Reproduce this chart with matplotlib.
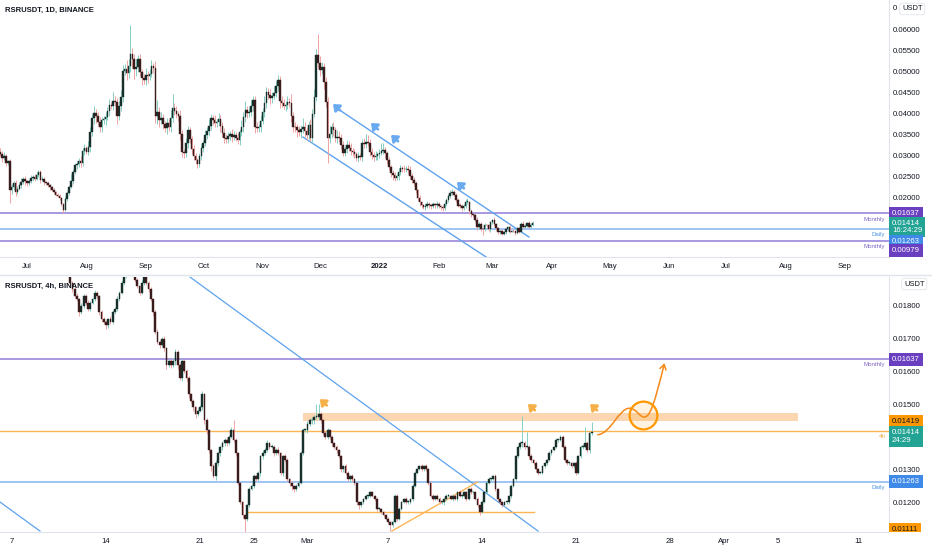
import numpy as np
import pandas as pd
import matplotlib
matplotlib.use("Agg")
import matplotlib.pyplot as plt
import matplotlib.dates as mdates
import matplotlib.transforms as mtransforms
from matplotlib.path import Path
from matplotlib.patches import FancyArrowPatch, Rectangle
from matplotlib.lines import Line2D

plt.rcParams['font.family'] = ['Liberation Sans', 'DejaVu Sans']

# ---------------- daily candles (top pane) ----------------
day_start = "2021-06-17"
day_open0 = 0.0310
day_close = [
    0.0305, 0.0296, 0.0300, 0.0284, 0.0287, 0.0218, 0.0226, 0.0236, 0.0215, 0.0222,
    0.0230, 0.0238, 0.0246, 0.0240, 0.0235, 0.0241, 0.0248, 0.0251, 0.0246, 0.0254,
    0.0261, 0.0244, 0.0246, 0.0238, 0.0236, 0.0230, 0.0226, 0.0220, 0.0214, 0.0208,
    0.0205, 0.0200, 0.0186, 0.0172, 0.0198, 0.0212, 0.0226, 0.0240, 0.0262, 0.0278,
    0.0280, 0.0288, 0.0284, 0.0312, 0.0318, 0.0310, 0.0322, 0.0358, 0.0390, 0.0402,
    0.0396, 0.0380, 0.0368, 0.0385, 0.0388, 0.0394, 0.0408, 0.0422, 0.0420, 0.0432,
    0.0428, 0.0395, 0.0420, 0.0440, 0.0502, 0.0506, 0.0498, 0.0514, 0.0542, 0.0530,
    0.0506, 0.0512, 0.0530, 0.0500, 0.0486, 0.0480, 0.0494, 0.0490, 0.0496, 0.0514,
    0.0510, 0.0395, 0.0404, 0.0386, 0.0390, 0.0376, 0.0366, 0.0378, 0.0370, 0.0390,
    0.0415, 0.0408, 0.0400, 0.0396, 0.0352, 0.0310, 0.0306, 0.0330, 0.0362, 0.0340,
    0.0316, 0.0300, 0.0290, 0.0280, 0.0300, 0.0318, 0.0332, 0.0350, 0.0360, 0.0372,
    0.0390, 0.0385, 0.0378, 0.0380, 0.0388, 0.0372, 0.0355, 0.0344, 0.0340, 0.0348,
    0.0352, 0.0346, 0.0350, 0.0344, 0.0338, 0.0356, 0.0370, 0.0392, 0.0410, 0.0402,
    0.0405, 0.0420, 0.0434, 0.0368, 0.0366, 0.0368, 0.0384, 0.0404, 0.0426, 0.0452,
    0.0446, 0.0438, 0.0444, 0.0450, 0.0466, 0.0482, 0.0430, 0.0426, 0.0420, 0.0422,
    0.0428, 0.0426, 0.0395, 0.0370, 0.0368, 0.0362, 0.0356, 0.0364, 0.0368, 0.0360,
    0.0350, 0.0374, 0.0344, 0.0400, 0.0440, 0.0540, 0.0522, 0.0505, 0.0512, 0.0475,
    0.0428, 0.0344, 0.0352, 0.0368, 0.0362, 0.0344, 0.0346, 0.0342, 0.0326, 0.0308,
    0.0316, 0.0326, 0.0320, 0.0312, 0.0310, 0.0304, 0.0296, 0.0300, 0.0298, 0.0330,
    0.0328, 0.0334, 0.0332, 0.0310, 0.0302, 0.0298, 0.0300, 0.0304, 0.0308, 0.0312,
    0.0314, 0.0306, 0.0290, 0.0274, 0.0260, 0.0254, 0.0248, 0.0252, 0.0262, 0.0272,
    0.0270, 0.0268, 0.0270, 0.0266, 0.0252, 0.0244, 0.0236, 0.0218, 0.0200, 0.0190,
    0.0183, 0.0179, 0.0182, 0.0186, 0.0183, 0.0180, 0.0185, 0.0183, 0.0186, 0.0180,
    0.0178, 0.0176, 0.0186, 0.0196, 0.0204, 0.0212, 0.0214, 0.0208, 0.0196, 0.0182,
    0.0181, 0.0175, 0.0182, 0.0191, 0.0191, 0.0169, 0.0162, 0.0160, 0.0148, 0.0131,
    0.0139, 0.0126, 0.0125, 0.0136, 0.0135, 0.0125, 0.0142, 0.0147, 0.0138, 0.0129,
    0.0119, 0.0122, 0.0115, 0.0118, 0.0125, 0.0130, 0.0120, 0.0122, 0.0121, 0.0117,
    0.0128, 0.0120, 0.0138, 0.0132, 0.0133, 0.0140, 0.0132, 0.0136, 0.01414,
]
# wick lengths beyond the body, in units of 0.0001
day_upper = [
    8, 6, 10, 5, 4, 6, 8, 5, 7, 6,
    5, 9, 4, 6, 3, 5, 7, 4, 6, 8,
    6, 5, 7, 4, 3, 5, 4, 3, 4, 3,
    5, 4, 3, 2, 6, 4, 5, 18, 8, 6,
    9, 7, 12, 8, 10, 6, 14, 12, 9, 16,
    10, 8, 12, 9, 7, 10, 8, 14, 6, 20,
    12, 9, 10, 16, 14, 12, 22, 18, 70, 16,
    12, 20, 10, 14, 8, 10, 15, 9, 11, 14,
    8, 16, 30, 12, 14, 10, 8, 12, 9, 20,
    32, 10, 12, 8, 14, 9, 6, 12, 10, 8,
    7, 9, 6, 5, 8, 10, 7, 12, 9, 16,
    10, 8, 12, 9, 14, 10, 8, 12, 9, 10,
    8, 12, 9, 6, 10, 8, 16, 12, 20, 10,
    12, 14, 10, 8, 12, 9, 14, 10, 16, 12,
    10, 14, 8, 16, 12, 10, 9, 12, 10, 8,
    14, 10, 22, 9, 12, 8, 10, 9, 22, 12,
    8, 10, 14, 12, 20, 14, 50, 16, 12, 10,
    14, 12, 20, 10, 12, 8, 16, 14, 10, 9,
    8, 12, 9, 10, 8, 7, 6, 9, 8, 10,
    12, 18, 16, 9, 8, 7, 12, 6, 8, 20,
    16, 8, 6, 7, 5, 6, 8, 5, 10, 6,
    5, 8, 6, 9, 10, 8, 6, 5, 4, 6,
    4, 3, 5, 6, 4, 3, 5, 4, 6, 5,
    4, 5, 6, 4, 5, 6, 8, 5, 4, 5,
    6, 5, 4, 6, 8, 3, 4, 3, 5, 6,
    4, 3, 2, 4, 3, 2, 3, 4, 8, 3,
    3, 2, 4, 3, 4, 4, 5, 2, 3, 2,
    3, 4, 6, 8, 4, 3, 5, 4, 3,
]
day_lower = [
    6, 10, 5, 8, 6, 30, 9, 6, 10, 5,
    4, 6, 5, 8, 6, 4, 5, 7, 6, 4,
    5, 8, 4, 6, 5, 4, 6, 3, 5, 4,
    3, 4, 5, 8, 3, 4, 5, 3, 6, 5,
    8, 6, 10, 7, 9, 6, 8, 12, 10, 14,
    18, 9, 12, 10, 8, 14, 9, 12, 8, 10,
    9, 18, 10, 14, 12, 10, 16, 12, 14, 20,
    22, 16, 12, 10, 18, 9, 12, 16, 10, 8,
    12, 16, 20, 18, 10, 12, 9, 14, 10, 12,
    8, 10, 9, 12, 14, 12, 10, 8, 12, 10,
    12, 9, 10, 8, 6, 10, 8, 9, 10, 12,
    9, 12, 10, 8, 9, 14, 10, 12, 9, 8,
    10, 12, 8, 9, 10, 12, 9, 14, 10, 12,
    9, 10, 12, 14, 10, 8, 12, 9, 10, 12,
    10, 14, 12, 9, 10, 12, 16, 10, 9, 12,
    10, 9, 14, 12, 10, 16, 9, 12, 10, 14,
    12, 10, 9, 14, 8, 10, 12, 14, 10, 16,
    12, 60, 12, 10, 14, 10, 12, 9, 10, 8,
    9, 10, 8, 9, 10, 8, 9, 10, 8, 9,
    10, 8, 9, 10, 8, 9, 7, 10, 8, 6,
    8, 10, 9, 8, 9, 10, 8, 6, 9, 7,
    8, 6, 7, 9, 6, 8, 7, 6, 8, 9,
    8, 6, 7, 5, 6, 7, 5, 6, 8, 5,
    6, 7, 4, 5, 6, 5, 6, 4, 5, 4,
    6, 5, 4, 5, 6, 6, 8, 5, 4, 8,
    6, 5, 14, 4, 5, 4, 6, 4, 4, 5,
    5, 4, 4, 4, 3, 4, 3, 2, 3, 4,
    2, 3, 4, 3, 4, 3, 4, 3, 2,
]

# ---------------- 4h candles (bottom pane) ----------------
h4_start = "2022-02-11 00:00"
h4_open0 = 0.0194
h4_close = [
    0.0192, 0.0190, 0.0187, 0.0185, 0.0183, 0.0182, 0.0178, 0.0180, 0.0183, 0.0181, 0.0179, 0.0181,
    0.0182, 0.0184, 0.0183, 0.0178, 0.0176, 0.0175, 0.0174, 0.0176, 0.0175, 0.0178, 0.0179, 0.0182,
    0.0184, 0.0187, 0.0189, 0.0190, 0.0192, 0.0191, 0.0190, 0.0188, 0.0186, 0.0184, 0.0187, 0.0191,
    0.0187, 0.0185, 0.0182, 0.0178, 0.0172, 0.0169, 0.0168, 0.0170, 0.0167, 0.0162, 0.0163, 0.0162,
    0.0163, 0.0166, 0.0162, 0.0158, 0.0163, 0.0160, 0.0158, 0.0153, 0.0151, 0.0149, 0.0147, 0.0148,
    0.0149, 0.0153, 0.0145, 0.0142, 0.0136, 0.0131, 0.0128, 0.0132, 0.0135, 0.0137, 0.0138, 0.0139,
    0.0138, 0.0140, 0.0142, 0.0139, 0.0135, 0.0126, 0.0120, 0.0116, 0.0115, 0.0119, 0.0124, 0.0125,
    0.0128, 0.0127, 0.0129, 0.0134, 0.0135, 0.0136, 0.0138, 0.0137, 0.0137, 0.0135, 0.0136, 0.0135,
    0.0129, 0.0134, 0.0133, 0.0127, 0.0126, 0.0125, 0.0124, 0.0125, 0.0126, 0.0135, 0.0142, 0.0142,
    0.0144, 0.0145, 0.0145, 0.0146, 0.0146, 0.0147, 0.0145, 0.0141, 0.0140, 0.0142, 0.0140, 0.0138,
    0.0137, 0.0136, 0.0134, 0.0130, 0.0131, 0.0129, 0.0127, 0.0128, 0.0127, 0.0126, 0.0120, 0.0119,
    0.0120, 0.0121, 0.0122, 0.0122, 0.0123, 0.0122, 0.0121, 0.0118, 0.0118, 0.0117, 0.0116, 0.0115,
    0.0114, 0.0113, 0.0114, 0.0122, 0.0115, 0.0118, 0.0120, 0.0121, 0.0120, 0.0120, 0.0121, 0.0125,
    0.0129, 0.0130, 0.0131, 0.0130, 0.0131, 0.0130, 0.0126, 0.0122, 0.0121, 0.0122, 0.0121, 0.0120,
    0.0120, 0.0121, 0.0122, 0.0122, 0.0121, 0.0122, 0.0121, 0.0123, 0.0122, 0.0122, 0.0123, 0.0121,
    0.0124, 0.0123, 0.0123, 0.0121, 0.0119, 0.0117, 0.0120, 0.0123, 0.0126, 0.0127, 0.0127, 0.0128,
    0.0124, 0.0121, 0.0120, 0.0119, 0.0120, 0.0120, 0.0122, 0.0125, 0.0127, 0.0134, 0.0137, 0.0138,
    0.0138, 0.0137, 0.0137, 0.0134, 0.0133, 0.0132, 0.0130, 0.0129, 0.0129, 0.0131, 0.0132, 0.0133,
    0.0135, 0.0136, 0.0137, 0.0139, 0.0139, 0.0140, 0.0137, 0.0133, 0.0132, 0.0132, 0.0131, 0.0132,
    0.0129, 0.0134, 0.0137, 0.0137, 0.0138, 0.0136, 0.0141, 0.01414,
]
# wick lengths beyond the body, in units of 0.00001
h4_upper = [
    8, 6, 10, 5, 6, 8, 4, 9, 6, 5, 7, 6,
    5, 8, 6, 4, 7, 5, 6, 4, 8, 6, 5, 9,
    6, 8, 5, 7, 9, 6, 4, 8, 6, 5, 10, 7,
    6, 5, 8, 4, 6, 10, 7, 5, 8, 4, 9, 6,
    12, 7, 5, 6, 8, 4, 6, 5, 4, 6, 5, 7,
    8, 10, 4, 6, 5, 3, 6, 8, 4, 5, 7, 6,
    8, 5, 9, 30, 5, 4, 3, 4, 5, 4, 6, 5,
    7, 4, 6, 5, 8, 6, 9, 5, 7, 6, 5, 8,
    4, 5, 6, 4, 3, 5, 4, 6, 5, 6, 7, 5,
    8, 6, 9, 7, 40, 30, 5, 4, 8, 6, 5, 4,
    5, 6, 4, 5, 3, 6, 4, 3, 5, 4, 3, 4,
    5, 4, 6, 3, 5, 4, 3, 5, 4, 3, 4, 3,
    4, 3, 2, 4, 5, 6, 4, 3, 5, 6, 4, 5,
    6, 4, 5, 7, 4, 6, 3, 4, 5, 3, 4, 5,
    3, 4, 6, 5, 3, 4, 5, 3, 6, 4, 3, 5,
    4, 6, 3, 4, 5, 3, 6, 5, 4, 6, 3, 4,
    5, 3, 4, 3, 5, 4, 3, 6, 4, 5, 4, 6,
    82, 6, 45, 4, 6, 3, 5, 4, 6, 5, 4, 3,
    5, 4, 3, 5, 4, 6, 5, 4, 3, 5, 4, 3,
    5, 4, 6, 8, 50, 6, 5, 32,
]
h4_lower = [
    6, 8, 5, 9, 6, 4, 10, 5, 6, 8, 5, 7,
    6, 5, 8, 7, 10, 6, 12, 8, 5, 6, 4, 5,
    5, 4, 6, 5, 7, 4, 6, 8, 5, 6, 4, 5,
    6, 8, 5, 10, 7, 6, 9, 5, 8, 12, 6, 9,
    7, 10, 12, 8, 9, 6, 10, 12, 8, 10, 12, 6,
    5, 8, 10, 12, 9, 14, 6, 12, 8, 10, 9, 7,
    8, 6, 5, 7, 10, 8, 6, 9, 40, 6, 5, 4,
    8, 6, 5, 10, 9, 6, 7, 8, 5, 9, 6, 7,
    8, 9, 7, 6, 10, 12, 8, 6, 5, 4, 6, 7,
    8, 6, 12, 10, 7, 8, 9, 6, 8, 7, 6, 9,
    8, 10, 6, 9, 7, 8, 6, 9, 7, 6, 8, 10,
    6, 5, 4, 6, 5, 4, 6, 7, 5, 6, 4, 5,
    6, 18, 5, 4, 6, 5, 4, 3, 6, 5, 4, 5,
    4, 5, 3, 6, 4, 5, 6, 4, 5, 3, 4, 5,
    6, 8, 4, 5, 3, 6, 4, 5, 3, 6, 4, 5,
    3, 5, 6, 4, 5, 8, 4, 3, 5, 4, 6, 3,
    5, 6, 4, 5, 3, 4, 5, 6, 4, 5, 6, 8,
    10, 6, 5, 7, 6, 5, 8, 6, 5, 4, 6, 5,
    5, 6, 4, 5, 6, 4, 5, 8, 6, 5, 7, 6,
    6, 5, 4, 6, 5, 8, 10, 4,
]

# ---------------- levels and drawings ----------------
monthly_hi = 0.01637
monthly_lo = 0.00979
daily_lvl = 0.01263
h4_lvl = 0.01419
h4_low_tag = 0.01111
last_price = 0.01414

# descending channel on the daily chart (date, price)
chan_upper = [("2021-12-08 20:00", 0.04167), ("2022-03-20 02:00", 0.01071)]
chan_lower = [("2021-11-22 02:00", 0.03452), ("2022-02-25 17:00", 0.00595)]
day_flags = [("2021-12-07 19:00", 0.04237), ("2021-12-27 14:00", 0.03785),
             ("2022-01-07 02:00", 0.03500), ("2022-02-10 12:00", 0.02381)]

# 4h drawings
h4_trend = [("2022-02-20 06:00", 0.01888), ("2022-03-18 04:00", 0.01112)]
h4_trend_left = [("2022-02-06 03:00", 0.01200), ("2022-02-09 02:00", 0.01112)]
h4_support = [("2022-02-24 12:00", 0.01171), ("2022-03-17 21:00", 0.01171)]
h4_rising = [("2022-03-07 07:00", 0.01112), ("2022-03-13 15:00", 0.01261)]
zone_start, zone_end = "2022-02-28 16:00", "2022-04-06 12:00"
zone_lo, zone_hi = 0.01447, 0.01473
h4_flags = [("2022-03-01 22:00", 0.01515), ("2022-03-17 10:00", 0.01500),
            ("2022-03-22 01:00", 0.01500)]
proj_t = ["2022-03-22 14:40", "2022-03-23 14:00", "2022-03-24 05:00", "2022-03-24 23:00",
          "2022-03-25 12:00", "2022-03-25 17:00", "2022-03-26 02:00", "2022-03-26 12:00",
          "2022-03-26 20:00", "2022-03-27 14:00"]
proj_p = [0.01406, 0.01410, 0.01487, 0.01487, 0.01487, 0.01460, 0.01460, 0.01460,
          0.01500, 0.01625]
circle_pt = ("2022-03-26 00:15", 0.01467)

top_ticks = ["2021-07-01", "2021-08-01", "2021-09-01", "2021-10-01", "2021-11-01",
             "2021-12-01", "2022-01-01", "2022-02-01", "2022-03-01", "2022-04-01",
             "2022-05-01", "2022-06-01", "2022-07-01", "2022-08-01", "2022-09-01"]
top_labels = ["Jul", "Aug", "Sep", "Oct", "Nov", "Dec", "2022", "Feb", "Mar", "Apr",
              "May", "Jun", "Jul", "Aug", "Sep"]
bot_ticks = ["2022-02-07", "2022-02-14", "2022-02-21", "2022-02-25", "2022-03-01",
             "2022-03-07", "2022-03-14", "2022-03-21", "2022-03-28", "2022-04-01",
             "2022-04-05", "2022-04-11"]
bot_labels = ["7", "14", "21", "25", "Mar", "7", "14", "21", "28", "Apr", "5", "11"]

PURPLE_LN = "#9a86dc"
PURPLE_TAG = "#6a3fc0"
BLUE_LN = "#8fbbf2"
BLUE_TAG = "#3f8ae8"
TEAL = "#22a394"
ORANGE = "#ff9800"
CH_BLUE = "#5ea2ee"
TXT = "#131722"
GRID = "#e0e3eb"


def dn(s):
    return mdates.date2num(pd.Timestamp(s))


def candles(ax, t, closes, open0, upper, lower, unit, width, min_body):
    c = np.array(closes)
    o = np.concatenate([[open0], c[:-1]])
    top = np.maximum(o, c)
    bot = np.minimum(o, c)
    hi = top + np.array(upper) * unit
    lo = bot - np.array(lower) * unit
    up = c >= o
    ax.vlines(t[up], lo[up], hi[up], color="#86cfc3", lw=0.7, zorder=3)
    ax.vlines(t[~up], lo[~up], hi[~up], color="#f2a3a3", lw=0.7, zorder=3)
    h = np.maximum(top - bot, min_body)
    ax.bar(t[up], h[up], width, bottom=bot[up], color="#18302b", ec="#18302b", lw=0.3, zorder=4)
    ax.bar(t[~up], h[~up], width, bottom=bot[~up], color="#3a1c1c", ec="#3a1c1c", lw=0.3, zorder=4)


def tag(ax, y, text, fc, tc="white", dy=0.0):
    tr = mtransforms.blended_transform_factory(ax.transAxes, ax.transData)
    ax.annotate(text, xy=(1.0, y), xycoords=tr, xytext=(2.2, dy), textcoords="offset points",
                ha="left", va="center", fontsize=5.6, color=tc, linespacing=1.1,
                bbox=dict(boxstyle="square,pad=0.38", fc=fc, ec="none"),
                annotation_clip=False, zorder=10)


def level_label(ax, y, text, color):
    tr = mtransforms.blended_transform_factory(ax.transAxes, ax.transData)
    ax.annotate(text, xy=(0.996, y), xycoords=tr, xytext=(0, -4.2), textcoords="offset points",
                ha="right", va="center", fontsize=4.4, color=color, zorder=6)


def flag(ax, x, y, color):
    ax.annotate("", xy=(dn(x), y), xytext=(5.0, -4.5), textcoords="offset points",
                arrowprops=dict(arrowstyle="-|>,head_length=0.55,head_width=0.45",
                                mutation_scale=6, color=color, lw=2.0, shrinkA=0, shrinkB=0),
                annotation_clip=False, zorder=7)


def seg(ax, pts, color, lw=1.0):
    ax.plot([dn(p[0]) for p in pts], [p[1] for p in pts], color=color, lw=lw, zorder=2)


def style(ax, ticks, labels, yticks, fmt):
    for s in ["top", "left"]:
        ax.spines[s].set_visible(False)
    ax.spines["right"].set_color(GRID)
    ax.spines["bottom"].set_color(GRID)
    ax.yaxis.tick_right()
    ax.set_yticks(yticks)
    ax.set_yticklabels([fmt % v for v in yticks])
    ax.set_xticks([dn(t) for t in ticks])
    ax.set_xticklabels(labels)
    ax.tick_params(axis="both", length=0, labelsize=5.6, colors=TXT)
    ax.tick_params(axis="x", pad=4)
    ax.tick_params(axis="y", pad=3)
    ax.set_facecolor("white")


fig = plt.figure(figsize=(9.32, 5.5), dpi=100)
ax1 = fig.add_axes([0.0, 1 - 257 / 550, 889 / 932, 257 / 550])
ax2 = fig.add_axes([0.0, 18 / 550, 889 / 932, 255 / 550])

# ---- top: daily ----
t1 = mdates.date2num(pd.date_range(day_start, periods=len(day_close), freq="D"))
for lvl, col in [(monthly_hi, PURPLE_LN), (daily_lvl, BLUE_LN), (monthly_lo, PURPLE_LN)]:
    ax1.axhline(lvl, color=col, lw=1.2, zorder=1)
seg(ax1, chan_upper, CH_BLUE)
seg(ax1, chan_lower, CH_BLUE)
candles(ax1, t1, day_close, day_open0, day_upper, day_lower, 1e-4, 0.8, 0.00012)
for x, y in day_flags:
    flag(ax1, x, y, "#6aaaf0")
ax1.set_xlim(t1[0] - 0.1, t1[0] + 464.1)
ax1.set_ylim(0.00595, 0.06714)
style(ax1, top_ticks, top_labels, np.arange(0.02, 0.0601, 0.005), "%.5f")
ax1.get_xticklabels()[6].set_fontweight("bold")
level_label(ax1, monthly_hi, "Monthly", "#7e63c9")
level_label(ax1, daily_lvl, "Daily", "#4c95e6")
level_label(ax1, monthly_lo, "Monthly", "#7e63c9")
tag(ax1, monthly_hi, "0.01637", PURPLE_TAG)
tag(ax1, last_price, "0.01414\n16:24:29", TEAL, dy=-3.3)
tag(ax1, daily_lvl, "0.01263", BLUE_TAG, dy=-9.0)
tag(ax1, monthly_lo, "0.00979", PURPLE_TAG, dy=-7.2)

# ---- bottom: 4h ----
t2 = mdates.date2num(pd.date_range(h4_start, periods=len(h4_close), freq="4h"))
ax2.axhline(monthly_hi, color=PURPLE_LN, lw=1.2, zorder=1)
ax2.axhline(h4_lvl, color="#ffb453", lw=1.0, zorder=1)
ax2.axhline(daily_lvl, color=BLUE_LN, lw=1.2, zorder=1)
ax2.add_patch(Rectangle((dn(zone_start), zone_lo), dn(zone_end) - dn(zone_start),
                        zone_hi - zone_lo, fc="#fbd2a8", ec="none", alpha=0.9, zorder=1))
seg(ax2, h4_trend, CH_BLUE, 0.9)
seg(ax2, h4_trend_left, CH_BLUE, 0.9)
seg(ax2, h4_support, "#ffb453", 1.0)
seg(ax2, h4_rising, "#ffb453", 1.0)
candles(ax2, t2, h4_close, h4_open0, h4_upper, h4_lower, 1e-5, 0.8 / 6, 0.000025)
for x, y in h4_flags:
    flag(ax2, x, y, "#f6b04a")

verts = [(dn(t), p) for t, p in zip(proj_t, proj_p)]
codes = [Path.MOVETO] + [Path.CURVE4] * 9
ax2.add_patch(FancyArrowPatch(path=Path(verts, codes), arrowstyle="->,head_length=3.5,head_width=2.2",
                              color="#f5891a", lw=1.1, zorder=8))
ax2.plot(dn(circle_pt[0]), circle_pt[1], "o", ms=20, mfc=(1, 0.6, 0, 0.12), mec=ORANGE,
         mew=1.6, zorder=8)

ax2.set_xlim(dn("2022-02-07") - 0.893, dn("2022-02-07") + 65.3)
ax2.set_ylim(0.01109, 0.01888)
style(ax2, bot_ticks, bot_labels, [0.012, 0.013, 0.015, 0.016, 0.017, 0.018], "%.5f")
level_label(ax2, monthly_hi, "Monthly", "#7e63c9")
level_label(ax2, daily_lvl, "Daily", "#4c95e6")
level_label(ax2, h4_lvl, "4h", "#f5a43a")
tag(ax2, monthly_hi, "0.01637", PURPLE_TAG)
tag(ax2, h4_lvl, "0.01419", ORANGE, tc=TXT, dy=6.5)
tag(ax2, last_price, "0.01414\n24:29", TEAL, dy=-3.0)
tag(ax2, daily_lvl, "0.01263", BLUE_TAG)
tag(ax2, h4_low_tag, "0.01111", ORANGE, tc=TXT, dy=1.5)

# ---- titles, scale badges, separators ----
fig.text(5 / 932, 1 - 10 / 550, "RSRUSDT, 1D, BINANCE", fontsize=5.5, fontweight="bold",
         color=TXT, va="center")
fig.text(5 / 932, 1 - 286 / 550, "RSRUSDT, 4h, BINANCE", fontsize=5.5, fontweight="bold",
         color=TXT, va="center")
fig.text(893 / 932, 1 - 9 / 550, "0", fontsize=5.6, color=TXT, va="center")
for yy in (9, 284):
    fig.text(902 / 932 if yy == 9 else 904 / 932, 1 - yy / 550, "USDT", fontsize=5.4, color=TXT,
             va="center", bbox=dict(boxstyle="round,pad=0.3", fc="white", ec=GRID, lw=0.6))
fig.add_artist(Line2D([0, 1], [1 - 275 / 550] * 2, transform=fig.transFigure, color=GRID, lw=1.0))
fig.add_artist(Rectangle((889 / 932, 0), 43 / 932, 18 / 550, transform=fig.transFigure,
                         fc="white", ec="none", zorder=20))

fig.savefig("out.png", dpi=100, facecolor="white")
